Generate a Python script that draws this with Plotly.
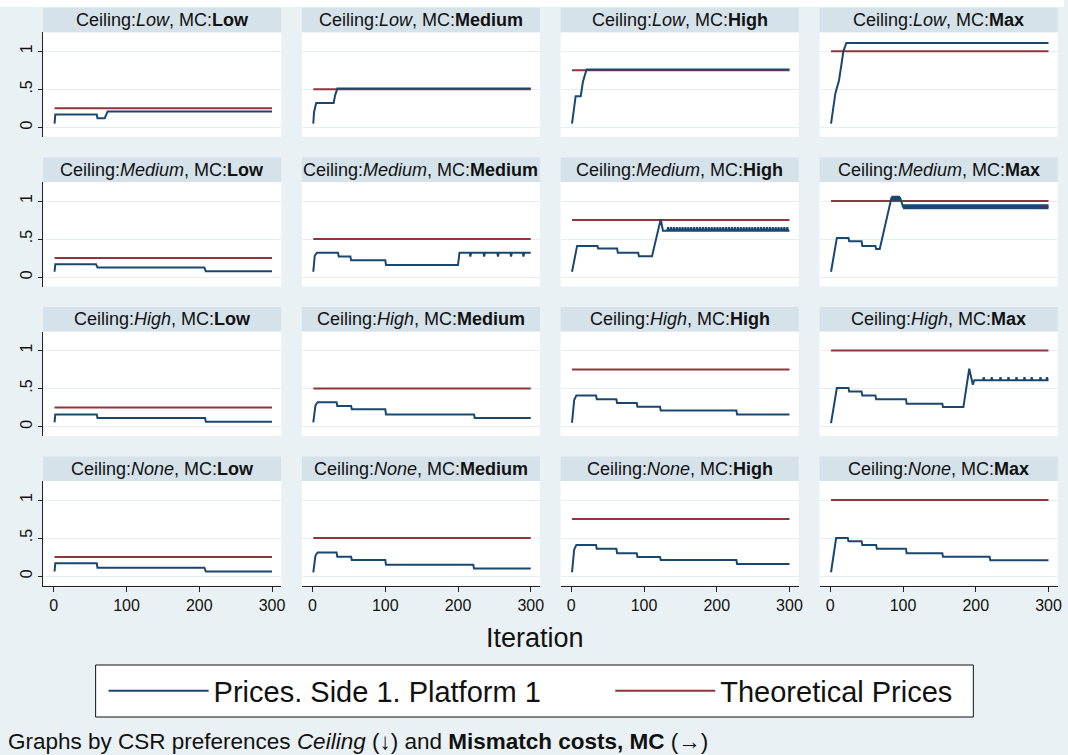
import plotly.graph_objects as go

# ---------------- data ----------------
ceilings = ["Low", "Medium", "High", "None"]
mcs = ["Low", "Medium", "High", "Max"]
theory = [0.25, 0.5, 0.75, 1.0]
iter_start, iter_end = 1, 300
x_ticks = [0, 100, 200, 300]
y_ticks = [0, 0.5, 1]
y_tick_labels = ["0", ".5", "1"]

# Ceiling: Low
x_low_low = [1, 2, 59, 60, 70, 72, 74, 300]
p_low_low = [0.05, 0.17, 0.17, 0.12, 0.12, 0.17, 0.21, 0.21]
x_low_med = [1, 2, 5, 29, 31, 34, 300]
p_low_med = [0.05, 0.2, 0.32, 0.32, 0.42, 0.51, 0.51]
x_low_high = [1, 4, 6, 13, 16, 21, 300]
p_low_high = [0.05, 0.3, 0.41, 0.41, 0.6, 0.76, 0.76]
x_low_max = [1, 7, 12, 18, 22, 300]
p_low_max = [0.05, 0.45, 0.62, 1.0, 1.11, 1.11]

# Ceiling: Medium
x_med_low = [1, 2, 58, 60, 207, 209, 300]
p_med_low = [0.07, 0.17, 0.17, 0.125, 0.125, 0.075, 0.075]
x_med_med = [1, 3, 6, 35, 36, 52, 53, 100, 101, 200, 202, 216, 217, 218,
             235, 236, 237, 254, 255, 256, 272, 273, 274, 289, 290, 291, 300]
p_med_med = [0.07, 0.28, 0.32, 0.32, 0.27, 0.27, 0.22, 0.22, 0.16, 0.16, 0.32, 0.32, 0.27, 0.32,
             0.32, 0.27, 0.32, 0.32, 0.27, 0.32, 0.32, 0.27, 0.32, 0.32, 0.27, 0.32, 0.32]
x_med_high = [1, 8, 36, 37, 63, 64, 92, 93, 111, 123, 126, 130]
p_med_high = [0.07, 0.41, 0.41, 0.375, 0.375, 0.32, 0.32, 0.275, 0.275, 0.76, 0.61, 0.61]
med_high_teeth = [132, 136, 140, 144, 148, 152, 156, 160, 164, 168, 172, 176, 180, 184,
                  188, 192, 196, 200, 204, 208, 212, 216, 220, 224, 228, 232, 236, 240,
                  244, 248, 252, 256, 260, 264, 268, 272, 276, 280, 284, 288, 292, 296]
med_high_base, med_high_peak = 0.61, 0.655
x_med_max = [1, 9, 25, 26, 43, 44, 62, 63, 68, 84, 96, 100, 300]
p_med_max = [0.07, 0.515, 0.515, 0.47, 0.47, 0.41, 0.41, 0.37, 0.37, 1.04, 1.04, 0.925, 0.925]
# rapidly alternating (band-like) segments: [start, end, level]
med_max_band = [[84, 96, 1.035], [100, 300, 0.925]]

# Ceiling: High
x_high_low = [1, 2, 59, 60, 208, 209, 300]
p_high_low = [0.055, 0.16, 0.16, 0.114, 0.114, 0.064, 0.064]
x_high_med = [1, 4, 7, 33, 34, 53, 54, 100, 101, 222, 223, 300]
p_high_med = [0.055, 0.28, 0.32, 0.32, 0.27, 0.27, 0.227, 0.227, 0.16, 0.16, 0.114, 0.114]
x_high_high = [1, 4, 7, 34, 35, 62, 63, 90, 91, 122, 123, 227, 228, 300]
p_high_high = [0.05, 0.35, 0.41, 0.41, 0.36, 0.36, 0.31, 0.31, 0.26, 0.26, 0.21, 0.21, 0.16, 0.16]
x_high_max = [1, 9, 25, 26, 43, 44, 62, 63, 104, 105, 154, 155, 183, 191, 196, 198]
p_high_max = [0.045, 0.507, 0.507, 0.46, 0.46, 0.41, 0.41, 0.36, 0.36, 0.30, 0.30, 0.256, 0.256, 0.76, 0.55, 0.61]
high_max_teeth = [210, 221, 233, 244, 255, 266, 276, 288, 297]
high_max_base, high_max_peak = 0.61, 0.65

# Ceiling: None
x_none_low = [1, 2, 59, 60, 207, 209, 300]
p_none_low = [0.06, 0.17, 0.17, 0.11, 0.11, 0.06, 0.06]
x_none_med = [1, 4, 7, 33, 34, 53, 54, 100, 101, 221, 222, 300]
p_none_med = [0.05, 0.27, 0.31, 0.31, 0.255, 0.255, 0.21, 0.21, 0.15, 0.15, 0.10, 0.10]
x_none_high = [1, 4, 7, 34, 35, 62, 63, 90, 91, 122, 123, 227, 228, 300]
p_none_high = [0.05, 0.35, 0.41, 0.41, 0.36, 0.36, 0.30, 0.30, 0.25, 0.25, 0.21, 0.21, 0.16, 0.16]
x_none_max = [1, 8, 24, 25, 43, 44, 63, 64, 104, 105, 154, 155, 219, 220, 300]
p_none_max = [0.05, 0.50, 0.50, 0.457, 0.457, 0.41, 0.41, 0.36, 0.36, 0.30, 0.30, 0.253, 0.253, 0.208, 0.208]


def with_teeth(xs, ys, teeth, base, peak, end):
    xs, ys = list(xs), list(ys)
    for t in teeth:
        xs += [t, t + 1, t + 2]
        ys += [base, peak, base]
    xs.append(end)
    ys.append(base)
    return xs, ys


x_med_high, p_med_high = with_teeth(x_med_high, p_med_high, med_high_teeth,
                                    med_high_base, med_high_peak, 300)
x_high_max, p_high_max = with_teeth(x_high_max, p_high_max, high_max_teeth,
                                    high_max_base, high_max_peak, 300)

series = [
    [(x_low_low, p_low_low), (x_low_med, p_low_med), (x_low_high, p_low_high), (x_low_max, p_low_max)],
    [(x_med_low, p_med_low), (x_med_med, p_med_med), (x_med_high, p_med_high), (x_med_max, p_med_max)],
    [(x_high_low, p_high_low), (x_high_med, p_high_med), (x_high_high, p_high_high), (x_high_max, p_high_max)],
    [(x_none_low, p_none_low), (x_none_med, p_none_med), (x_none_high, p_none_high), (x_none_max, p_none_max)],
]

# ---------------- style / layout ----------------
W, H = 1068, 755
BG = "#eaf1f4"
BAND = "#d5e2ea"
GRID = "#e6eef2"
BLUE = "#1a476f"
RED = "#90353b"
FONT = "Liberation Sans, Arial, sans-serif"
NB = "\u00a0"

col_left = [43.3, 303.0, 562.7, 822.7]
col_w = 239.0
row_top = [32.3, 182.0, 331.5, 481.0]
row_h = 104.5
band_h = 24.5

fig = go.Figure()
layout = dict(
    width=W, height=H, margin=dict(l=0, r=0, t=0, b=0),
    paper_bgcolor=BG, plot_bgcolor="white",
    font=dict(family=FONT, color="#111"),
    showlegend=True,
)
shapes, annotations = [], []

# thin white strip along the top edge of the graph
shapes.append(dict(type="rect", xref="paper", yref="paper",
                   x0=0, x1=1, y0=1 - 7 / H, y1=1,
                   fillcolor="white", line=dict(width=0), layer="below"))

for r in range(4):
    for c in range(4):
        k = r * 4 + c + 1
        xa = "x" if k == 1 else f"x{k}"
        ya = "y" if k == 1 else f"y{k}"
        xs, ys = series[r][c]
        fig.add_trace(go.Scatter(
            x=[iter_start, iter_end], y=[theory[c], theory[c]], mode="lines",
            line=dict(color=RED, width=2), name="Theoretical Prices" + NB * 2,
            legendgroup="theo", showlegend=(k == 1), legendrank=2,
            xaxis=xa, yaxis=ya))
        fig.add_trace(go.Scatter(
            x=xs, y=ys, mode="lines", line=dict(color=BLUE, width=2),
            name="Prices. Side 1. Platform 1" + NB * 8, legendgroup="price",
            showlegend=(k == 1), legendrank=1, xaxis=xa, yaxis=ya))
        if r == 1 and c == 3:
            bx, by = [], []
            for s, e, lv in med_max_band:
                bx += [s, e, None]
                by += [lv, lv, None]
            fig.add_trace(go.Scatter(
                x=bx, y=by, mode="lines", line=dict(color=BLUE, width=5),
                legendgroup="price", showlegend=False, xaxis=xa, yaxis=ya))

        x0 = col_left[c] / W
        x1 = (col_left[c] + col_w) / W
        y1 = 1 - row_top[r] / H
        y0 = 1 - (row_top[r] + row_h) / H
        bottom = (r == 3)
        first = (c == 0)
        layout["xaxis" if k == 1 else f"xaxis{k}"] = dict(
            domain=[x0, x1], anchor=ya, range=[-14.7, 312.7],
            showgrid=False, zeroline=False,
            showline=bottom, linecolor="#222", linewidth=1,
            ticks="outside" if bottom else "", ticklen=5, tickcolor="#222",
            tickvals=x_ticks, showticklabels=bottom,
            tickfont=dict(size=16, family=FONT, color="#111"),
        )
        layout["yaxis" if k == 1 else f"yaxis{k}"] = dict(
            domain=[y0, y1], anchor=xa, range=[-0.124, 1.25],
            showgrid=True, gridcolor=GRID, gridwidth=1.2, zeroline=False,
            showline=first, linecolor="#222", linewidth=1,
            ticks="outside" if first else "", ticklen=4, tickcolor="#222",
            tickvals=y_ticks, ticktext=y_tick_labels, showticklabels=first,
            tickangle=-90, tickfont=dict(size=16, family=FONT, color="#111"),
        )
        by0 = 1 - row_top[r] / H
        by1 = 1 - (row_top[r] - band_h) / H
        shapes.append(dict(type="rect", xref="paper", yref="paper",
                           x0=x0, x1=x1, y0=by0, y1=by1,
                           fillcolor=BAND, line=dict(width=0), layer="below"))
        annotations.append(dict(
            xref="paper", yref="paper", x=(x0 + x1) / 2, y=(by0 + by1) / 2,
            xanchor="center", yanchor="middle", showarrow=False,
            text=f"Ceiling:<i>{ceilings[r]}</i>, MC:<b>{mcs[c]}</b>",
            font=dict(size=18, family=FONT, color="#111")))

annotations.append(dict(
    xref="paper", yref="paper", x=537 / W, y=1 - 638 / H,
    xanchor="center", yanchor="middle", showarrow=False,
    text="Iteration", font=dict(size=27, family=FONT, color="#111")))
annotations.append(dict(
    xref="paper", yref="paper", x=6 / W, y=1 - 741 / H,
    xanchor="left", yanchor="middle", showarrow=False,
    text="Graphs by CSR preferences <i>Ceiling</i> (\u2193) and <b>Mismatch costs, MC</b> (\u2192)",
    font=dict(size=22.5, family=FONT, color="#111")))

# legend frame
shapes.append(dict(type="rect", xref="paper", yref="paper",
                   x0=96 / W, x1=977 / W, y0=1 - 717 / H, y1=1 - 665 / H,
                   fillcolor="white", line=dict(color="#111", width=1), layer="above"))

layout["shapes"] = shapes
layout["annotations"] = annotations
layout["legend"] = dict(
    orientation="h", x=104 / W, xanchor="left", y=1 - 691 / H, yanchor="middle",
    bgcolor="rgba(0,0,0,0)", borderwidth=0,
    font=dict(size=29, family=FONT, color="#111"),
    itemwidth=100, traceorder="normal",
)
fig.update_layout(**layout)
fig.write_html("out.html", config={"displayModeBar": False},
               post_script="document.body.style.margin='0px';document.body.style.overflow='hidden';")
